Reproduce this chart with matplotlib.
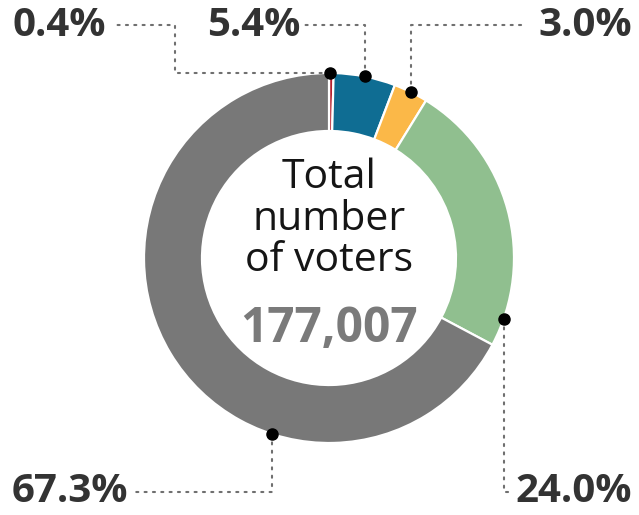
import numpy as np
import matplotlib
matplotlib.use("Agg")
import matplotlib.pyplot as plt

# Voter shares by group, clockwise from the top
shares = [0.4, 5.4, 3.0, 24.0, 67.3]
colors = ["#b5202e", "#0f6d93", "#fbb848", "#90bf8f", "#787878"]
labels = ["0.4%", "5.4%", "3.0%", "24.0%", "67.3%"]
total_voters = "177,007"
center_title = ["Total", "number", "of voters"]

W, H = 639, 515
fig = plt.figure(figsize=(W / 100, H / 100), dpi=100)
ax = fig.add_axes([0, 0, 1, 1])

cx, cy = 329, H - 258
R_out, ring = 185, 58

ax.pie(shares, colors=colors, startangle=90, counterclock=False,
       center=(cx, cy), radius=R_out,
       wedgeprops=dict(width=ring, edgecolor="white", linewidth=1.6))
ax.set_xlim(0, W)
ax.set_ylim(0, H)
ax.set_aspect("equal")
ax.axis("off")

# Where along each wedge the callout dot sits (fraction of the wedge)
dot_frac = [0.3, 0.5, 0.5, 0.9, 0.33]
total = sum(shares)
cum = np.concatenate([[0], np.cumsum(shares)])
dots = []
for i, f in enumerate(dot_frac):
    frac = (cum[i] + f * shares[i]) / total
    ang = np.deg2rad(90 - 360 * frac)
    dots.append((cx + R_out * np.cos(ang), cy + R_out * np.sin(ang)))

line_kw = dict(color="#6f6f6f", lw=1.5, linestyle=(0, (1, 3)), zorder=3,
               solid_capstyle="round", dash_capstyle="round")
top_y = H - 25
bot_y = H - 492

# 0.4% : left, up, left
x0, y0 = dots[0]
ax.plot([x0, 175, 175, 114], [y0, y0, top_y, top_y], **line_kw)
# 5.4% : up, left
x1, y1 = dots[1]
ax.plot([x1, x1, 302], [y1, top_y, top_y], **line_kw)
# 3.0% : up, right
x2, y2 = dots[2]
ax.plot([x2, x2, 522], [y2, top_y, top_y], **line_kw)
# 24.0% : down, right
x3, y3 = dots[3]
ax.plot([x3, x3, 510], [y3, bot_y, bot_y], **line_kw)
# 67.3% : down, left
x4, y4 = dots[4]
ax.plot([x4, x4, 134], [y4, bot_y, bot_y], **line_kw)

for (x, y) in dots:
    ax.plot(x, y, "o", color="black", ms=8, zorder=5)

lab_kw = dict(family="Open Sans", weight="bold", size=29, color="#333333",
              va="center")
ax.text(12, top_y, labels[0], ha="left", **lab_kw)
ax.text(300, top_y, labels[1], ha="right", **lab_kw)
ax.text(632, top_y, labels[2], ha="right", **lab_kw)
ax.text(632, bot_y, labels[3], ha="right", **lab_kw)
ax.text(12, bot_y, labels[4], ha="left", **lab_kw)

# Centre caption
baselines = [188, 230, 271]
for line, b in zip(center_title, baselines):
    ax.text(cx, H - b, line, family="Open Sans", size=29.5,
            color="#151515", ha="center", va="baseline")
ax.text(cx, H - 342, total_voters, family="Open Sans", weight="bold",
        size=34.5, color="#7a7a7a", ha="center", va="baseline")

fig.savefig("out.png", dpi=100, facecolor="white")
